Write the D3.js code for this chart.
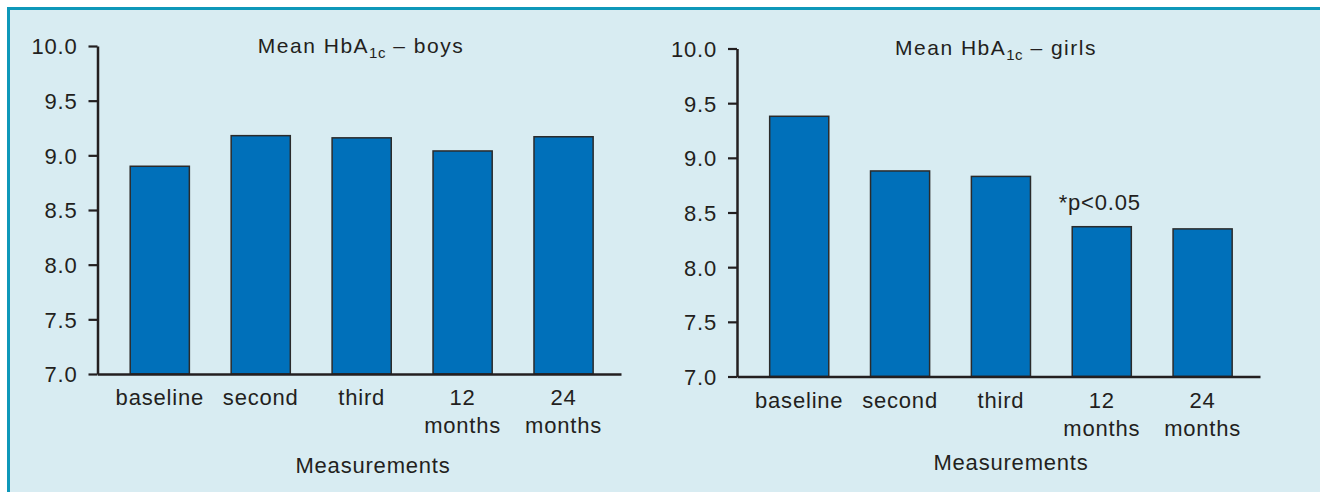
<!DOCTYPE html>
<html>
<head>
<meta charset="utf-8">
<script src="https://cdn.jsdelivr.net/npm/d3@7"></script>
<style>
  html, body { margin: 0; padding: 0; background: #ffffff; }
  svg { display: block; }
  text { font-family: "Liberation Sans", Arial, Helvetica, sans-serif; fill: #231f20; }
</style>
</head>
<body>
<svg id="chart" width="1320" height="492"></svg>
<script>
// ---- data ----
const categories = ["baseline", "second", "third", "12 months", "24 months"];
const boysValues = [8.90, 9.18, 9.16, 9.04, 9.17];
const girlsValues = [9.38, 8.88, 8.83, 8.37, 8.35];
const yTickValues = [7.0, 7.5, 8.0, 8.5, 9.0, 9.5, 10.0];
const titleMain = "Mean HbA";
const titleSub = "1c";
const boysTitleTail = " – boys";
const girlsTitleTail = " – girls";
const xAxisTitle = "Measurements";
const girlsAnnotation = "*p<0.05";
const girlsAnnotationIndex = 3;

// ---- layout ----
const W = 1320, H = 492;
const svg = d3.select("#chart");
const ink = "#231f20";
const barFill = "#0070ba";

// frame
svg.append("rect").attr("x", 0).attr("y", 0).attr("width", W).attr("height", H).attr("fill", "#ffffff");
svg.append("rect").attr("x", 8.5).attr("y", 8.5).attr("width", W).attr("height", H).attr("fill", "#d8ecf2");
svg.append("line").attr("x1", 7).attr("x2", W).attr("y1", 8.5).attr("y2", 8.5).attr("stroke", "#0e98b9").attr("stroke-width", 3);
svg.append("line").attr("x1", 8.5).attr("x2", 8.5).attr("y1", 7).attr("y2", H).attr("stroke", "#0e98b9").attr("stroke-width", 3);

const panels = [
  { values: boysValues, tail: boysTitleTail, x0: 97.5, x1: 621, yTop: 46, yBottom: 374,
    titleX: 361, titleY: 53, xTitleX: 373, xTitleY: 473, note: null },
  { values: girlsValues, tail: girlsTitleTail, x0: 737, x1: 1260, yTop: 48.5, yBottom: 376.5,
    titleX: 996, titleY: 55, xTitleX: 1011, xTitleY: 470, note: girlsAnnotation }
];

panels.forEach(p => {
  const g = svg.append("g");
  const x = d3.scaleBand().domain(categories).range([p.x0, p.x1])
    .paddingInner(0.414).paddingOuter(0.3).align(0.54);
  const y = d3.scaleLinear().domain([7, 10]).range([p.yBottom, p.yTop]);

  // bars
  g.selectAll("rect.bar").data(p.values).join("rect")
    .attr("class", "bar")
    .attr("x", (d, i) => x(categories[i]))
    .attr("width", x.bandwidth())
    .attr("y", d => y(d))
    .attr("height", d => y(7) - y(d))
    .attr("fill", barFill)
    .attr("stroke", "#2b2b2b")
    .attr("stroke-width", 1.5);

  // y axis
  const yAxis = d3.axisLeft(y).tickValues(yTickValues).tickFormat(d3.format(".1f"))
    .tickSize(9).tickSizeOuter(0).tickPadding(11);
  const ya = g.append("g").attr("transform", `translate(${p.x0},0)`).call(yAxis);
  ya.select(".domain").attr("stroke", ink).attr("stroke-width", 2.5);
  ya.selectAll(".tick line").attr("stroke", ink).attr("stroke-width", 2.2);
  ya.selectAll(".tick text").attr("font-size", 22).attr("letter-spacing", "0.8px")
    .attr("fill", ink).attr("dy", "0.36em").attr("font-family", "Liberation Sans, Arial, sans-serif");

  // x axis
  const xAxis = d3.axisBottom(x).tickSize(0).tickSizeOuter(0).tickPadding(0);
  const xa = g.append("g").attr("transform", `translate(0,${p.yBottom})`).call(xAxis);
  xa.select(".domain").attr("stroke", ink).attr("stroke-width", 2.5);
  xa.selectAll(".tick text").each(function(d) {
    const t = d3.select(this);
    t.text(null).attr("y", 31).attr("dy", 0).attr("font-size", 22).attr("letter-spacing", "0.8px")
      .attr("fill", ink).attr("font-family", "Liberation Sans, Arial, sans-serif");
    d.split(" ").forEach((w, i) => {
      t.append("tspan").attr("x", 0).attr("dy", i === 0 ? 0 : 28).text(w);
    });
  });

  // title
  const tt = g.append("text").attr("x", p.titleX).attr("y", p.titleY)
    .attr("text-anchor", "middle").attr("font-size", 21).attr("letter-spacing", "1.5px");
  tt.append("tspan").text(titleMain);
  tt.append("tspan").attr("font-size", 15).attr("dy", 5).attr("letter-spacing", "0.5px").text(titleSub);
  tt.append("tspan").attr("dy", -5).text(p.tail);

  // x axis title
  g.append("text").attr("x", p.xTitleX).attr("y", p.xTitleY).attr("text-anchor", "middle")
    .attr("font-size", 22).attr("letter-spacing", "0.8px").text(xAxisTitle);

  // annotation
  if (p.note) {
    const c = categories[girlsAnnotationIndex];
    g.append("text")
      .attr("x", x(c) + x.bandwidth() / 2 - 2)
      .attr("y", y(p.values[girlsAnnotationIndex]) - 17)
      .attr("text-anchor", "middle").attr("font-size", 22).attr("letter-spacing", "0.8px")
      .text(p.note);
  }
});
</script>
</body>
</html>
